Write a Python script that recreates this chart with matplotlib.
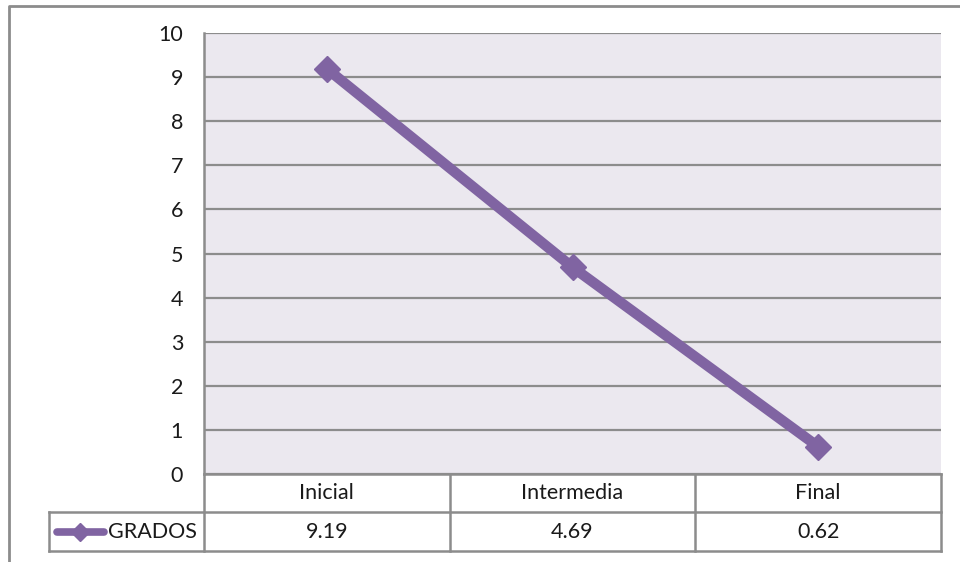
import matplotlib
matplotlib.use('Agg')
from matplotlib import pyplot as plt

plt.rcParams['font.family'] = ['Lato', 'DejaVu Sans']

etapas = ['Inicial', 'Intermedia', 'Final']
grados = [9.19, 4.69, 0.62]
serie = 'GRADOS'
yticks = list(range(0, 11))

purple = '#8064A2'
gray = '#8C8C8C'
txt = '#1a1a1a'
fs = 15.5
W, H = 960, 562

fig = plt.figure(figsize=(9.6, 5.62), dpi=100)

# overlay in pixel coords for frame + data table
tax = fig.add_axes([0, 0, 1, 1])
tax.set_xlim(0, W)
tax.set_ylim(H, 0)
tax.axis('off')

# plot area
L, R, T, B = 204, 941, 33, 474
ax = fig.add_axes([L / W, 1 - B / H, (R - L) / W, (B - T) / H])
ax.set_facecolor('#EBE8EF')
x = list(range(len(etapas)))
ax.plot(x, grados, color=purple, lw=7.5, marker='D', ms=13, solid_capstyle='round')
ax.set_xlim(-0.5, len(etapas) - 0.5)
ax.set_ylim(0, 10)
ax.set_yticks(yticks)
ax.set_xticks([])
ax.yaxis.grid(True, color=gray, lw=1.6)
ax.set_axisbelow(True)
ax.tick_params(axis='y', length=0, pad=15, labelsize=fs, colors=txt)
for s in ['top', 'bottom', 'right']:
    ax.spines[s].set_visible(False)
ax.spines['left'].set_color(gray)
ax.spines['left'].set_linewidth(1.8)

# outer chart frame (left + top only visible)
tax.plot([9, 9, W], [H, 6, 6], color=gray, lw=2)

# data table
row1, row2, row3 = B, 512, 551
legL = 49
cw = (R - L) / len(etapas)
tax.plot([L, R], [row1, row1], color=gray, lw=1.8)
tax.plot([legL, R], [row2, row2], color=gray, lw=1.8)
tax.plot([legL, R], [row3, row3], color=gray, lw=1.8)
tax.plot([legL, legL], [row2, row3], color=gray, lw=1.8)
for i in range(len(etapas) + 1):
    xx = L + i * cw
    tax.plot([xx, xx], [row1, row3], color=gray, lw=1.8)
for i, (e, g) in enumerate(zip(etapas, grados)):
    cx = L + (i + 0.5) * cw
    tax.text(cx, (row1 + row2) / 2, e, ha='center', va='center', fontsize=fs, color=txt)
    tax.text(cx, (row2 + row3) / 2, f'{g:.2f}', ha='center', va='center', fontsize=fs, color=txt)

# legend key in the table
ym = (row2 + row3) / 2
tax.plot([57, 104], [ym, ym], color=purple, lw=5.5, solid_capstyle='round')
tax.plot([80], [ym], color=purple, marker='D', ms=9, ls='none')
tax.text(108, ym, serie, ha='left', va='center', fontsize=fs, color=txt)

fig.savefig('out.png', dpi=100)
